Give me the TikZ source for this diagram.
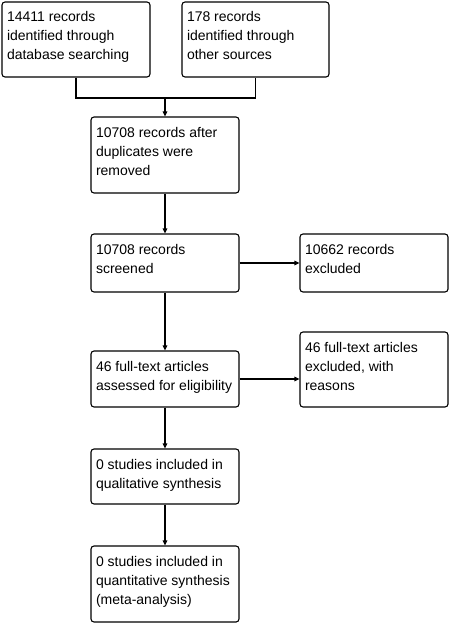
\documentclass[tikz,border=0pt]{standalone}
\usepackage{fontspec}
\setmainfont{Liberation Sans}
\usetikzlibrary{arrows.meta}
\newcommand{\bxtext}[3]{\parbox[c][#2pt][t]{#1pt}{\raggedright\leftskip=5pt\rule{0pt}{20pt}#3}}
\begin{document}
\begin{tikzpicture}[x=1pt,y=-1pt,
  flowbox/.style={draw, line width=1.1pt, rounded corners=3pt, inner sep=0pt,
    font=\fontsize{14}{19}\selectfont},
  arr/.style={line width=1.1pt, -{Triangle[length=5pt,width=4.5pt]}},
  ln/.style={line width=1.1pt}]
\useasboundingbox (0,0) rectangle (450,623);
\node[flowbox] (b1) at (76,39.5) {\bxtext{148}{75}{14411 records\\identified through\\database searching}};
\node[flowbox] (b2) at (255.5,39.5) {\bxtext{147}{75}{178 records\\identified through\\other sources}};
\node[flowbox] (b3) at (165,155) {\bxtext{148}{76}{10708 records after\\duplicates were\\removed}};
\node[flowbox] (b4) at (165,263) {\bxtext{148}{58}{10708 records\\screened}};
\node[flowbox] (b5) at (374,263) {\bxtext{148}{58}{10662 records\\excluded}};
\node[flowbox] (b6) at (165,379) {\bxtext{148}{56}{46 full-text articles\\assessed for eligibility}};
\node[flowbox] (b7) at (374,369.5) {\bxtext{148}{75}{46 full-text articles\\excluded, with\\reasons}};
\node[flowbox] (b8) at (165,476.5) {\bxtext{148}{55}{0 studies included in\\qualitative synthesis}};
\node[flowbox] (b9) at (165,584) {\bxtext{148}{76}{0 studies included in\\quantitative synthesis\\(meta-analysis)}};
\coordinate (j) at (165,98);
\draw[ln] (b1.south) |- (j) -| (b2.south);
\draw[arr] (j) -- (j |- b3.north);
\draw[arr] (b3) -- (b4);
\draw[arr] (b4) -- (b5);
\draw[arr] (b4) -- (b6);
\draw[arr] (b6.east) -- (b6.east -| b7.west);
\draw[arr] (b6) -- (b8);
\draw[arr] (b8) -- (b9);
\end{tikzpicture}
\end{document}
